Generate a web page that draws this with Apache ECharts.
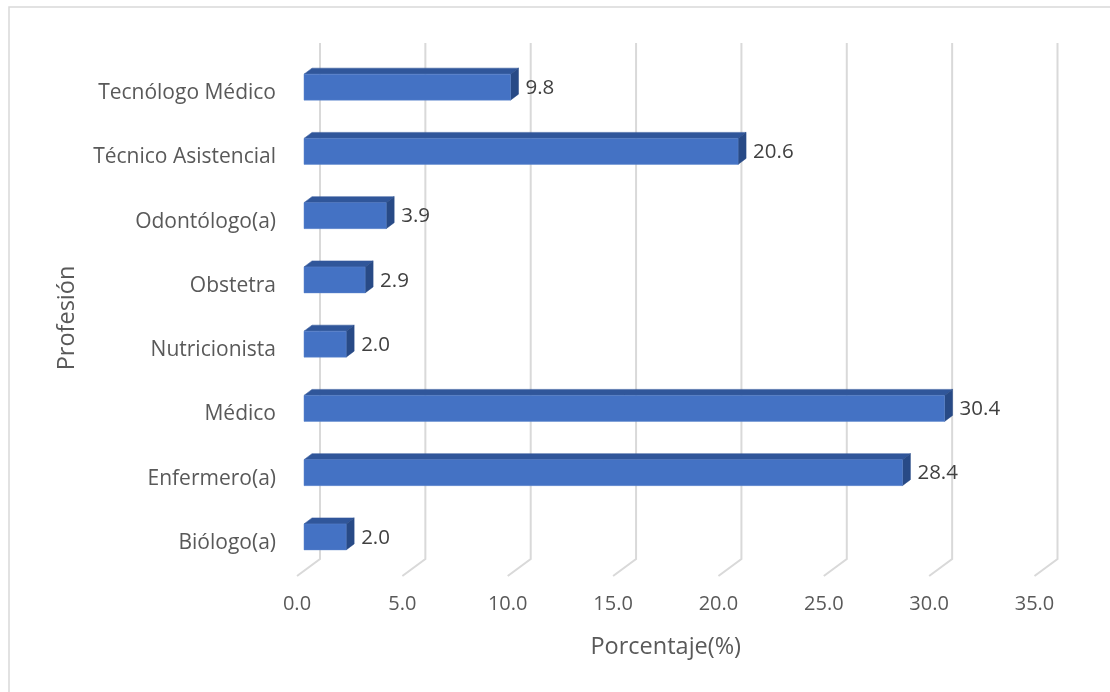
<!DOCTYPE html>
<html>
<head>
<meta charset="utf-8">
<script src="https://cdn.jsdelivr.net/npm/echarts@6/dist/echarts.min.js"></script>
<style>html,body{margin:0;padding:0;background:#fff;}#c{width:1110px;height:692px;}</style>
</head>
<body>
<div id="c"></div>
<script>
const categories = ['Biólogo(a)', 'Enfermero(a)', 'Médico', 'Nutricionista', 'Obstetra', 'Odontólogo(a)', 'Técnico Asistencial', 'Tecnólogo Médico'];
const values = [2.0, 28.4, 30.4, 2.0, 2.9, 3.9, 20.6, 9.8];
const ticks = [0, 5, 10, 15, 20, 25, 30, 35];
const xTitle = 'Porcentaje(%)';
const yTitle = 'Profesión';

const FONT = '"Open Sans", "DejaVu Sans", sans-serif';
const chart = echarts.init(document.getElementById('c'));

function gridRender(params, api) {
  const cs = params.coordSys;
  const v = api.value(0);
  const p = api.coord([v, 0]);
  const x = p[0];
  const bottom = cs.y + cs.height;
  return {
    type: 'polyline',
    shape: { points: [[x + 23, cs.y - 18], [x + 23, bottom - 16], [x, bottom + 1]] },
    style: { stroke: '#D9D9D9', lineWidth: 2, fill: null },
    silent: true
  };
}

function barRender(params, api) {
  const v = api.value(0);
  const cat = api.value(1);
  const p0 = api.coord([0, cat]);
  const p1 = api.coord([v, cat]);
  const ox = 7, dy0 = -6, h = 26, dx = 8, dz = 6;
  const x0 = p0[0] + ox, x1 = p1[0] + ox;
  const yc = p0[1] + dy0;
  const yt = yc - h / 2, yb = yc + h / 2;
  return {
    type: 'group',
    children: [
      { type: 'polygon', shape: { points: [[x0, yt], [x1, yt], [x1 + dx, yt - dz], [x0 + dx, yt - dz]] },
        style: { fill: '#30569A', stroke: '#30569A', lineWidth: 0.5 } },
      { type: 'polygon', shape: { points: [[x1, yt], [x1 + dx, yt - dz], [x1 + dx, yb - dz], [x1, yb]] },
        style: { fill: '#284A86', stroke: '#284A86', lineWidth: 0.5 } },
      { type: 'rect', shape: { x: x0, y: yt, width: x1 - x0, height: h },
        style: { fill: '#4472C4', stroke: '#5B84CC', lineWidth: 0.5 } },
      { type: 'text', style: { text: v.toFixed(1), x: x1 + dx + 7, y: yc + 1, textAlign: 'left', textVerticalAlign: 'middle',
        fill: '#404040', font: '20.5px ' + FONT } }
    ]
  };
}

chart.setOption({
  backgroundColor: '#fff',
  animation: false,
  graphic: [{ type: 'rect', shape: { x: 9, y: 7, width: 1300, height: 900 }, style: { fill: null, stroke: '#D9D9D9', lineWidth: 1.5 }, silent: true }],
  grid: { left: 297, top: 61, width: 737.5, height: 514 },
  xAxis: {
    type: 'value', min: 0, max: 35, interval: 5,
    axisLine: { show: false }, axisTick: { show: false }, splitLine: { show: false },
    axisLabel: { formatter: v => v.toFixed(1), color: '#595959', fontSize: 20, fontFamily: FONT, margin: 19 },
    name: xTitle, nameLocation: 'middle', nameGap: 60,
    nameTextStyle: { color: '#595959', fontSize: 23.5, fontFamily: FONT }
  },
  yAxis: {
    type: 'category', data: categories,
    axisLine: { show: false }, axisTick: { show: false }, splitLine: { show: false },
    axisLabel: { color: '#595959', fontSize: 21, fontFamily: FONT, margin: 21 },
    name: yTitle, nameLocation: 'middle', nameGap: 218, nameRotate: 90,
    nameTextStyle: { color: '#595959', fontSize: 23.5, fontFamily: FONT }
  },
  series: [
    { type: 'custom', renderItem: gridRender, data: ticks.map(t => [t, 0]), encode: { x: 0, y: 1 }, silent: true, z: 1 },
    { type: 'custom', renderItem: barRender, data: values.map((v, i) => [v, i]), encode: { x: 0, y: 1 }, z: 2 }
  ]
});
</script>
</body>
</html>
